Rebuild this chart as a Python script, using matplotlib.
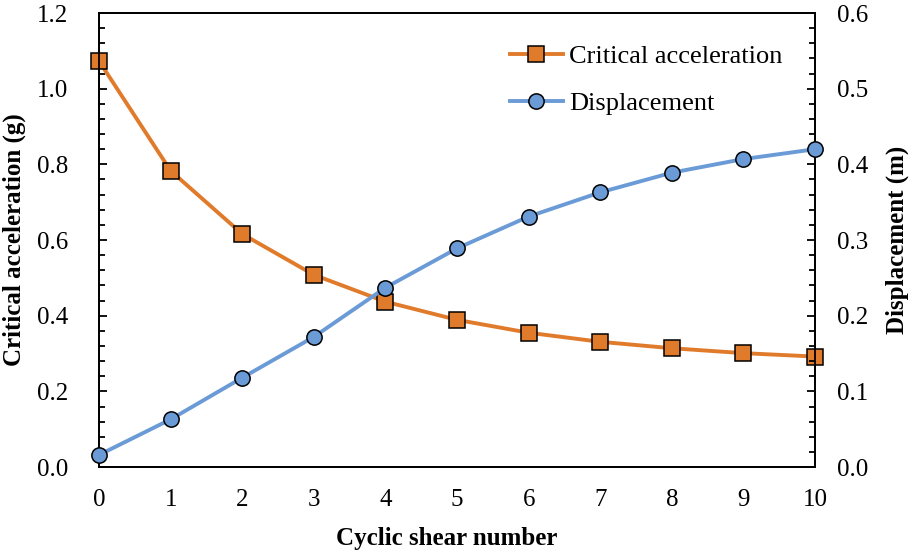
import matplotlib
matplotlib.use("Agg")
import matplotlib.pyplot as plt
from matplotlib.ticker import MultipleLocator

plt.rcParams['font.family'] = ['Liberation Serif', 'DejaVu Serif']

cycles = [0, 1, 2, 3, 4, 5, 6, 7, 8, 9, 10]
crit_acc = [1.073, 0.783, 0.616, 0.508, 0.437, 0.389, 0.355, 0.331, 0.314, 0.301, 0.292]
displacement = [0.016, 0.063, 0.118, 0.172, 0.237, 0.289, 0.331, 0.363, 0.389, 0.407, 0.420]

orange = '#E07B2C'
blue = '#6B9BD6'

fig = plt.figure(figsize=(9.22, 5.56), dpi=100)
ax = fig.add_axes([0.1074, 0.160, 0.7766, 0.8166])
ax2 = ax.twinx()

l1, = ax.plot(cycles, crit_acc, color=orange, lw=2.8, marker='s', ms=11.5,
              mfc=orange, mec='black', mew=1.1, clip_on=False, zorder=3,
              label='Critical acceleration')
l2, = ax2.plot(cycles, displacement, color=blue, lw=2.8, marker='o', ms=11,
               mfc=blue, mec='black', mew=1.1, clip_on=False, zorder=3,
               label='Displacement')

ax.set_xlim(0, 10)
ax.set_ylim(0, 1.2)
ax2.set_ylim(0, 0.6)
ax.xaxis.set_major_locator(MultipleLocator(1))
ax.yaxis.set_major_locator(MultipleLocator(0.2))
ax.yaxis.set_minor_locator(MultipleLocator(0.04))
ax2.yaxis.set_major_locator(MultipleLocator(0.1))
ax2.yaxis.set_minor_locator(MultipleLocator(0.02))
ax.yaxis.set_major_formatter(lambda v, p: f'{v:.1f}')
ax2.yaxis.set_major_formatter(lambda v, p: f'{v:.1f}')

for a in (ax, ax2):
    for s in a.spines.values():
        s.set_linewidth(1.3)
ax.tick_params(axis='x', length=0, pad=16, labelsize=18)
ax.tick_params(axis='y', which='major', direction='in', length=6, width=1.3, pad=22, labelsize=18)
ax.tick_params(axis='y', which='minor', direction='in', length=4, width=1.3)
ax2.tick_params(axis='y', which='major', direction='in', length=6, width=1.3, pad=16, labelsize=18)
ax2.tick_params(axis='y', which='minor', direction='in', length=4, width=1.3)

ax.set_xlabel('Cyclic shear number', fontsize=18, fontweight='bold')
ax.xaxis.set_label_coords(0.485, -0.132)
ax.set_ylabel('Critical acceleration (g)', fontsize=18, fontweight='bold', labelpad=8)
ax2.set_ylabel('Displacement (m)', fontsize=18, fontweight='bold', labelpad=12)

ax2.legend(handles=[l1, l2], loc='upper left', bbox_to_anchor=(0.574, 0.93),
           frameon=False, fontsize=19, handlelength=2.0, handletextpad=0.25,
           labelspacing=0.9, borderpad=0, borderaxespad=0)

fig.savefig('out.png', dpi=100)
